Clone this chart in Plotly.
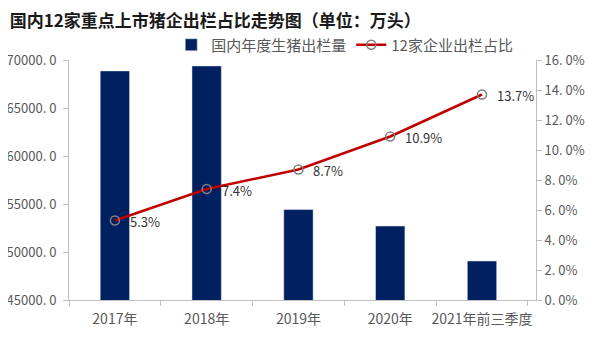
import plotly.graph_objects as go

categories = ["2017年", "2018年", "2019年", "2020年", "2021年前三季度"]
output_volume = [68861, 69382, 54419, 52704, 49064]
share_pct = [5.3, 7.4, 8.7, 10.9, 13.7]
share_labels = ["5.3%", "7.4%", "8.7%", "10.9%", "13.7%"]

left_vals = [45000, 50000, 55000, 60000, 65000, 70000]
left_text = ["45000. 0", "50000. 0", "55000. 0", "60000. 0", "65000. 0", "70000. 0"]
right_vals = [0, 2, 4, 6, 8, 10, 12, 14, 16]
right_text = ["0. 0%", "2. 0%", "4. 0%", "6. 0%", "8. 0%", "10. 0%", "12. 0%", "14. 0%", "16. 0%"]

FONT = "Noto Sans CJK SC"
TICK_COLOR = "#595959"
AXIS_COLOR = "#bfbfbf"

fig = go.Figure()
fig.add_trace(go.Bar(
    x=categories, y=output_volume, name="国内年度生猪出栏量",
    marker=dict(color="#002060"), width=0.32, yaxis="y",
))
fig.add_trace(go.Scatter(
    x=categories, y=share_pct, name="12家企业出栏占比", yaxis="y2",
    mode="lines+markers",
    line=dict(color="#c00000", width=2.5),
    marker=dict(symbol="circle-open", size=9, color="#808080", line=dict(width=1.5, color="#808080")),
))
for c, v, t in zip(categories, share_pct, share_labels):
    fig.add_annotation(x=c, y=v, xref="x", yref="y2", text=t, showarrow=False,
                       xanchor="left", yanchor="middle", xshift=13, yshift=-1,
                       font=dict(family=FONT, size=13, color="#333333"))

# page body adds an 8px offset, so the figure is 8px smaller than the window
fig.update_layout(
    width=592, height=352,
    margin=dict(l=61, r=64, t=52, b=60, autoexpand=False),
    paper_bgcolor="white", plot_bgcolor="white",
    font=dict(family=FONT, size=12, color=TICK_COLOR),
    title=dict(text="<b>国内12家重点上市猪企出栏占比走势图（单位：万头）</b>",
               x=0.003, xanchor="left", y=0.963, yanchor="middle",
               font=dict(family=FONT, size=17, color="#1a1a1a")),
    showlegend=True,
    legend=dict(orientation="h", x=0.962, xanchor="right", y=1.0625, yanchor="middle",
                font=dict(family=FONT, size=15, color=TICK_COLOR),
                itemwidth=30, tracegroupgap=0, bgcolor="rgba(0,0,0,0)"),
    xaxis=dict(type="category", showline=True, linecolor=AXIS_COLOR, linewidth=1,
               ticks="outside", tickson="boundaries", ticklen=5, tickcolor=AXIS_COLOR,
               tickangle=0, automargin=False, ticklabelstandoff=6,
               tickfont=dict(family=FONT, size=14, color=TICK_COLOR), showgrid=False),
    yaxis=dict(range=[45000, 70000], tickvals=left_vals, ticktext=left_text,
               showline=True, linecolor=AXIS_COLOR, linewidth=1, automargin=False,
               ticks="outside", ticklen=5, tickcolor=AXIS_COLOR, showgrid=False,
               ticklabelstandoff=4,
               zeroline=False, tickfont=dict(family=FONT, size=13, color=TICK_COLOR)),
    yaxis2=dict(range=[0, 16], tickvals=right_vals, ticktext=right_text, overlaying="y",
                side="right", showline=True, linecolor=AXIS_COLOR, linewidth=1, automargin=False,
                ticks="outside", ticklen=5, tickcolor=AXIS_COLOR, showgrid=False,
                zeroline=False, tickfont=dict(family=FONT, size=13, color=TICK_COLOR)),
)

fig.write_html("out.html")
